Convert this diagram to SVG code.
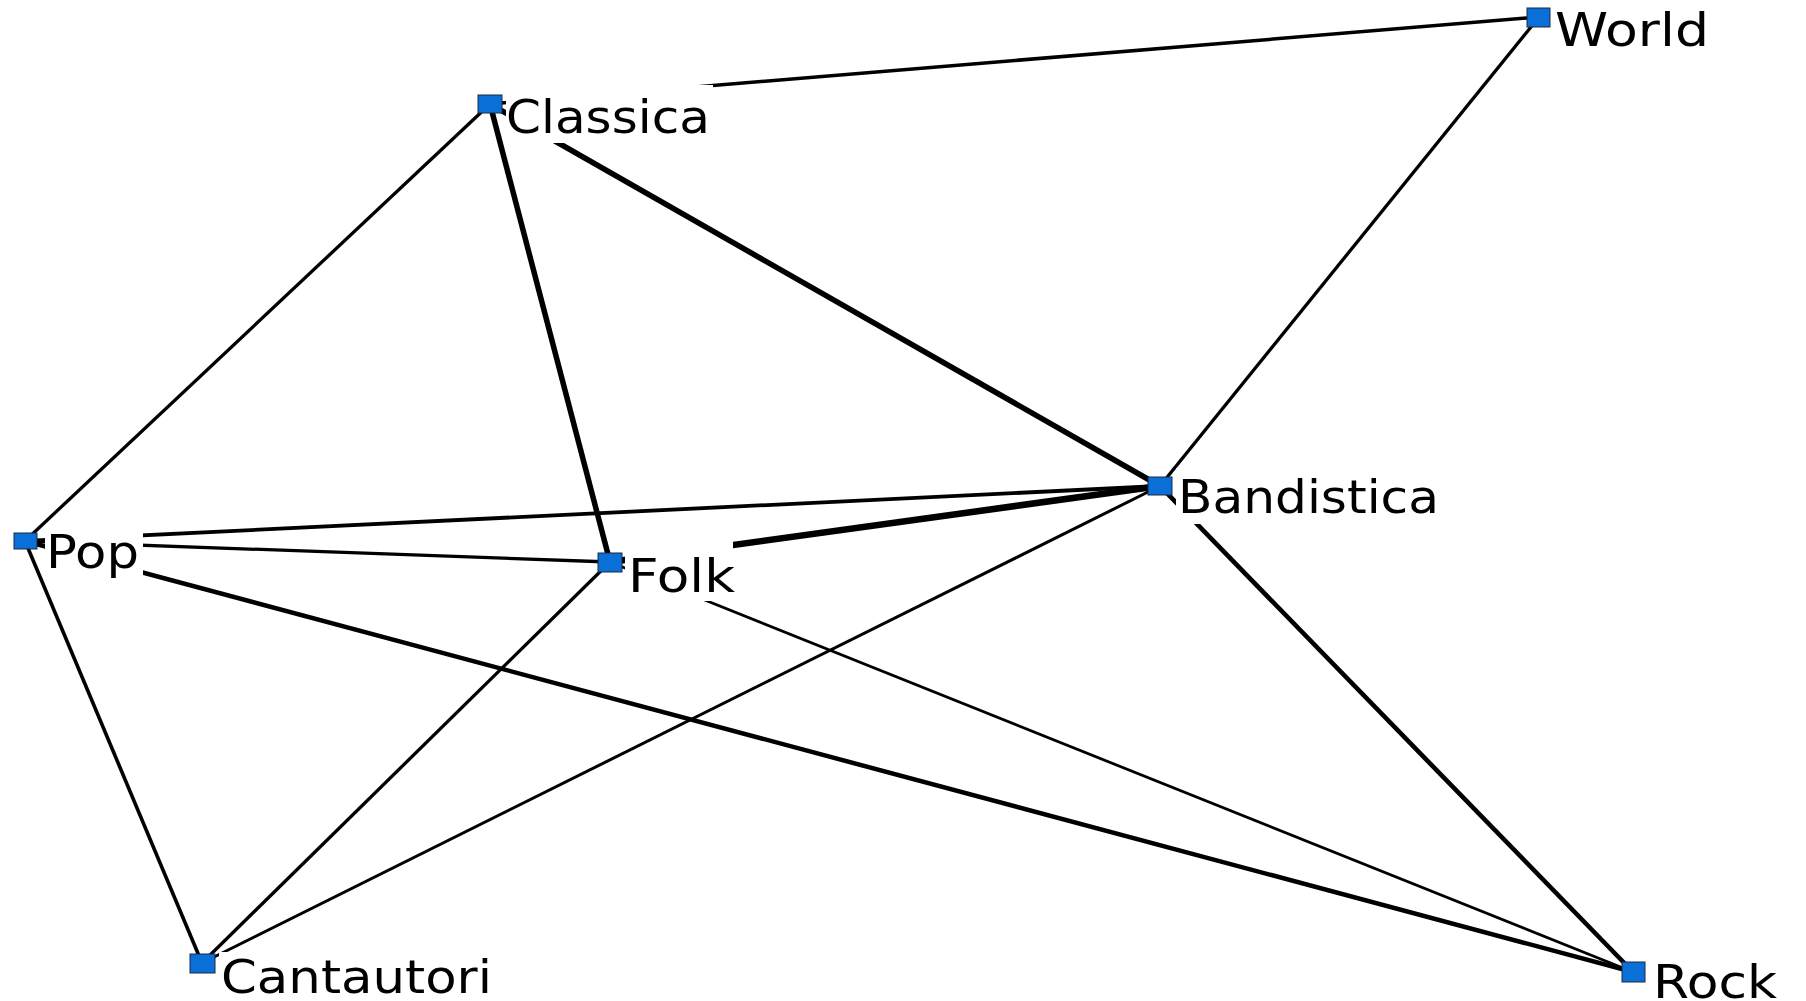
<svg xmlns="http://www.w3.org/2000/svg" width="1806" height="1001" viewBox="0 0 1806 1001">
<style>
.e{stroke:#000;fill:none;stroke-linecap:butt}
.n{fill:#0a6fd6;stroke:#1a2a44;stroke-width:1}
.bg{fill:#fff}
.t{font-family:"DejaVu Sans","Verdana",sans-serif;font-size:46px;fill:#000}
</style>
<rect width="1806" height="1001" fill="#fff"/>
<g id="connectors">
<line class="e" x1="1539" y1="17" x2="490" y2="104" stroke-width="3.5"/>
<line class="e" x1="1539" y1="17" x2="1160" y2="486" stroke-width="3.3"/>
<line class="e" x1="490" y1="104" x2="610" y2="562" stroke-width="5.5"/>
<line class="e" x1="490" y1="104" x2="1160" y2="486" stroke-width="5.5"/>
<line class="e" x1="490" y1="104" x2="25" y2="541" stroke-width="3.3"/>
<line class="e" x1="610" y1="562" x2="1160" y2="486" stroke-width="6.5"/>
<line class="e" x1="25" y1="541" x2="1160" y2="486" stroke-width="3.8"/>
<line class="e" x1="25" y1="541" x2="610" y2="562" stroke-width="3.3"/>
<line class="e" x1="25" y1="541" x2="1633" y2="972" stroke-width="4.5"/>
<line class="e" x1="25" y1="541" x2="202" y2="963" stroke-width="3.6"/>
<line class="e" x1="202" y1="963" x2="610" y2="562" stroke-width="3.3"/>
<line class="e" x1="202" y1="963" x2="1160" y2="486" stroke-width="3"/>
<line class="e" x1="610" y1="562" x2="1633" y2="972" stroke-width="2.8"/>
<line class="e" x1="1160" y1="486" x2="1633" y2="972" stroke-width="4.6"/>
</g>
<g id="node-world">
<rect class="bg" x="1554" y="2" width="160" height="56"/>
<rect class="n" x="1527" y="8" width="23" height="19"/>
<text class="t" x="1555" y="46" textLength="154" lengthAdjust="spacingAndGlyphs">World</text>
</g>
<g id="node-classica">
<rect class="bg" x="506" y="85" width="207" height="58"/>
<rect class="n" x="478" y="95" width="24" height="18"/>
<text class="t" x="506" y="133" textLength="204" lengthAdjust="spacingAndGlyphs">Classica</text>
</g>
<g id="node-bandistica">
<rect class="bg" x="1176" y="468" width="266" height="56"/>
<rect class="n" x="1148" y="477" width="24" height="18"/>
<text class="t" x="1178" y="513" textLength="261" lengthAdjust="spacingAndGlyphs">Bandistica</text>
</g>
<g id="node-pop">
<rect class="bg" x="45" y="526" width="98" height="56"/>
<rect class="n" x="14" y="533" width="23" height="16"/>
<text class="t" x="46" y="568" textLength="93" lengthAdjust="spacingAndGlyphs">Pop</text>
</g>
<g id="node-folk">
<rect class="bg" x="625" y="538" width="108" height="63"/>
<rect class="n" x="598" y="553" width="24" height="19"/>
<text class="t" x="628" y="592" textLength="107" lengthAdjust="spacingAndGlyphs">Folk</text>
</g>
<g id="node-cantautori">
<rect class="bg" x="219" y="952" width="276" height="49"/>
<rect class="n" x="190" y="954" width="25" height="19"/>
<text class="t" x="221" y="993" textLength="271" lengthAdjust="spacingAndGlyphs">Cantautori</text>
</g>
<g id="node-rock">
<rect class="bg" x="1650" y="960" width="134" height="41"/>
<rect class="n" x="1622" y="962" width="23" height="20"/>
<text class="t" x="1653" y="998" textLength="124" lengthAdjust="spacingAndGlyphs">Rock</text>
</g>
</svg>
